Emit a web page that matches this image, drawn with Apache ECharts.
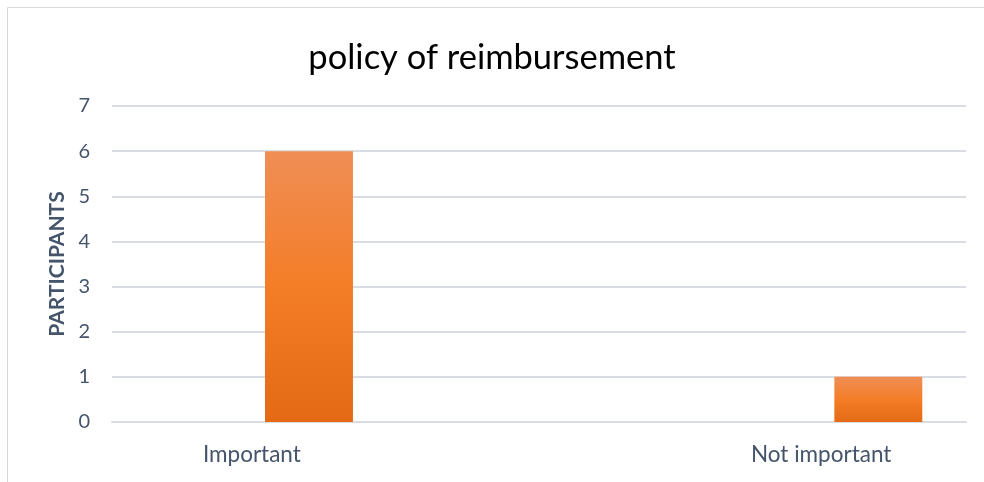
<!DOCTYPE html>
<html>
<head>
<meta charset="utf-8">
<script src="https://cdn.jsdelivr.net/npm/echarts@6/dist/echarts.min.js"></script>
<style>
  html, body { margin: 0; padding: 0; background: #fff; }
  #chart { width: 984px; height: 482px; }
</style>
</head>
<body>
<div id="chart"></div>
<script>
// Response categories; the blank slot keeps the two groups apart on the axis
const categories = ['Important', '', 'Not important'];
// Number of participants per response
const participants = [6, null, 1];
// Value axis ticks
const yMin = 0;
const yMax = 7;
const yStep = 1;

const chart = echarts.init(document.getElementById('chart'), null, { renderer: 'canvas' });

const barFill = new echarts.graphic.LinearGradient(0, 0, 0, 1, [
  { offset: 0, color: '#F08E56' },
  { offset: 0.5, color: '#F47D27' },
  { offset: 1, color: '#E46A16' }
]);

chart.setOption({
  animation: false,
  backgroundColor: '#ffffff',
  textStyle: { fontFamily: 'Lato' },
  graphic: [{
    type: 'rect',
    shape: { x: 7.5, y: 7.5, width: 1000, height: 500 },
    style: { fill: 'none', stroke: '#D9D9D9', lineWidth: 1 },
    silent: true,
    z: -1
  }],
  title: {
    text: 'policy of reimbursement',
    left: 'center',
    top: 35,
    textStyle: { fontFamily: 'Lato', fontWeight: 'normal', fontSize: 34.5, color: '#000000' }
  },
  grid: { left: 112, right: 18, top: 106, bottom: 60 },
  xAxis: {
    type: 'category',
    data: categories,
    axisLine: { show: true, lineStyle: { color: '#D9DDE3', width: 2 } },
    axisTick: { show: false },
    axisLabel: { color: '#44546A', fontSize: 22.5, margin: 21, fontFamily: 'Lato', padding: [0, 5, 0, 0] },
    splitLine: { show: false }
  },
  yAxis: {
    type: 'value',
    min: yMin,
    max: yMax,
    interval: yStep,
    name: 'PARTICIPANTS',
    nameLocation: 'middle',
    nameGap: 44,
    nameRotate: 90,
    nameTextStyle: { color: '#44546A', fontSize: 21, fontWeight: 'bold', fontFamily: 'Lato' },
    axisLine: { show: false },
    axisTick: { show: false },
    axisLabel: { color: '#44546A', fontSize: 20, margin: 22, fontFamily: 'Lato' },
    splitLine: { lineStyle: { color: '#D9DDE3', width: 2 } }
  },
  series: [{
    type: 'custom',
    data: participants.map((v, i) => [i, v]),
    encode: { x: 0, y: 1 },
    renderItem: function (params, api) {
      const v = api.value(1);
      if (v == null || isNaN(v)) return null;
      const base = api.coord([api.value(0), 0]);
      const top = api.coord([api.value(0), v]);
      const band = api.size([1, 0])[0];
      // bar sits just right of the category centre
      const w = band * 0.309;
      const x = base[0] + band * 0.0375;
      return {
        type: 'rect',
        shape: { x: x, y: top[1], width: w, height: base[1] - top[1] },
        style: { fill: barFill }
      };
    }
  }]
});
</script>
</body>
</html>
